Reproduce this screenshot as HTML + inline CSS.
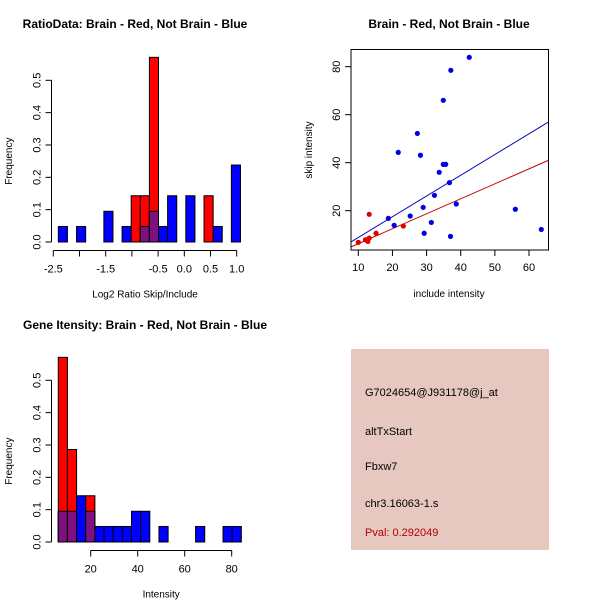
<!DOCTYPE html>
<html><head><meta charset="utf-8"><style>
body{margin:0;background:#fff;}
svg{display:block;font-family:"Liberation Sans",sans-serif;}
</style></head><body>
<svg id="svg" width="600" height="600" viewBox="0 0 600 600">
<rect width="600" height="600" fill="#fff"/>
<text x="135" y="28" font-size="12" font-weight="bold" text-anchor="middle">RatioData: Brain - Red, Not Brain - Blue</text>
<text x="449" y="28" font-size="12" font-weight="bold" text-anchor="middle">Brain - Red, Not Brain - Blue</text>
<text x="145" y="329" font-size="12" font-weight="bold" text-anchor="middle">Gene Itensity: Brain - Red, Not Brain - Blue</text>
<g id="h1"></g>
<g id="sc"></g>
<g id="h2"></g>
<g>
<rect x="351" y="349" width="198" height="201" fill="#e6c8c0"/>
<text x="365" y="396" font-size="11">G7024654@J931178@j_at</text>
<text x="365" y="435" font-size="11">altTxStart</text>
<text x="365" y="470" font-size="11">Fbxw7</text>
<text x="365" y="507" font-size="11">chr3.16063-1.s</text>
<text x="365" y="536" font-size="11" fill="#b00000">Pval: 0.292049</text>
</g>
</svg>
<script>
// ---- histogram 1 data ----
const h1Start = -2.404, h1Width = 0.1738;
const h1Blue = [0.048,0,0.048,0,0,0.095,0,0.048,0,0.048,0.095,0.048,0.143,0,0.143,0,0,0.048,0,0.238];
const h1Red  = [0,0,0,0,0,0,0,0,0.143,0.143,0.571,0,0,0,0,0,0.143,0,0,0];
const h1XTicks = [-2.5,-1.5,-0.5,0.0,0.5,1.0];
const h1XTickLabels = ["-2.5","-1.5","-0.5","0.0","0.5","1.0"];
const h1XMinor = [-2.0,-1.0];
const yTicks = [0,0.1,0.2,0.3,0.4,0.5];
const yTickLabels = ["0.0","0.1","0.2","0.3","0.4","0.5"];
// ---- histogram 2 data ----
const h2Start = 6.2, h2Width = 3.895;
const h2Blue = [0.095,0.095,0.143,0.095,0.048,0.048,0.048,0.048,0.095,0.095,0,0.048,0,0,0,0.048,0,0,0.048,0.048];
const h2Red  = [0.571,0.286,0,0.143,0,0,0,0,0,0,0,0,0,0,0,0,0,0,0,0];
const h2XTicks = [20,40,60,80];
const h2XTickLabels = ["20","40","60","80"];
// ---- scatter data ----
const blueX = [42.5,37.1,34.9,27.3,21.7,28.2,34.9,35.6,33.7,36.7,32.3,38.7,29.0,18.8,20.5,25.2,31.4,29.3,37.0,56.0,63.6];
const blueY = [83.9,78.5,66.0,52.2,44.3,43.1,39.3,39.3,36.0,31.7,26.4,22.8,21.4,16.8,13.9,17.8,15.1,10.6,9.3,20.6,12.2];
const redX = [13.2,10.0,12.1,12.8,13.2,15.2,23.2];
const redY = [18.5,6.8,7.9,7.2,8.6,10.6,13.6];
const blueFit = [0.2,0.864]; // intercept, slope
const redFit = [0.0,0.624];
const scXTicks = [10,20,30,40,50,60];
const scYTicks = [20,40,60,80];

const NS="http://www.w3.org/2000/svg";
function mk(parent,tag,attrs,txt){const e=document.createElementNS(NS,tag);for(const k in attrs)e.setAttribute(k,attrs[k]);if(txt!==undefined)e.textContent=txt;parent.appendChild(e);return e;}

function histogram(g, start, width, blue, red, xs, ys, xTicks, xLabels, minor, axisX0, axisX1, xTitle){
  const y0v = ys(0);
  for(let i=0;i<blue.length;i++){
    const a=xs(start+i*width), b=xs(start+(i+1)*width);
    const mn=Math.min(blue[i],red[i]);
    if(blue[i]>0){const r=mk(g,'rect',{x:a,y:ys(blue[i]),width:b-a,height:y0v-ys(blue[i]),fill:'#0000ff',stroke:'#000','stroke-width':1});
      
      }
    if(red[i]>0){const r=mk(g,'rect',{x:a,y:ys(red[i]),width:b-a,height:y0v-ys(red[i]),fill:'#ff0000',stroke:'#000','stroke-width':1});
      
      }
    if(mn>0){const r=mk(g,'rect',{x:a,y:ys(mn),width:b-a,height:y0v-ys(mn),fill:'#7f1080',stroke:'#000','stroke-width':1});
      
      }
  }
  // y axis
  const ax=51.5;
  mk(g,'line',{x1:ax,y1:ys(0),x2:ax,y2:ys(0.5),stroke:'#000'});
  yTicks.forEach((t,i)=>{mk(g,'line',{x1:ax-6,y1:ys(t),x2:ax,y2:ys(t),stroke:'#000'});
    const tx=mk(g,'text',{x:ax-11,y:ys(t),'font-size':11,'text-anchor':'middle',transform:`rotate(-90 ${ax-11} ${ys(t)})`},yTickLabels[i]);
    
    });
  const yt=mk(g,'text',{x:12,y:(ys(0)+ys(0.5))/2,'font-size':10,'text-anchor':'middle',transform:`rotate(-90 12 ${(ys(0)+ys(0.5))/2})`},'Frequency');
  
  
  // x axis
  const axY=ys(0)+8.5;
  mk(g,'line',{x1:xs(axisX0),y1:axY,x2:xs(axisX1),y2:axY,stroke:'#000'});
  xTicks.forEach((t,i)=>{mk(g,'line',{x1:xs(t),y1:axY,x2:xs(t),y2:axY+6,stroke:'#000'});
    const tx=mk(g,'text',{x:xs(t),y:axY+22,'font-size':11,'text-anchor':'middle'},xLabels[i]);
    
    });
  minor.forEach(t=>mk(g,'line',{x1:xs(t),y1:axY,x2:xs(t),y2:axY+6,stroke:'#000'}));
  const xt=mk(g,'text',{x:(xs(axisX0)+xs(axisX1))/2+ (xTitle==='Intensity'?0:0),y:axY+47,'font-size':10,'text-anchor':'middle'},xTitle);
  
  
}

// histogram 1
{
  const g=document.getElementById('h1');
  const xs=v=>53.3+(v+2.5)*52.4;
  const ys=v=>242-v*323.4;
  histogram(g,h1Start,h1Width,h1Blue,h1Red,xs,ys,h1XTicks,h1XTickLabels,h1XMinor,-2.5,1.0,'Log2 Ratio Skip/Include');
}
// histogram 2
{
  const g=document.getElementById('h2');
  const xs=v=>90.7+(v-20)*2.35;
  const ys=v=>542-v*323.4;
  histogram(g,h2Start,h2Width,h2Blue,h2Red,xs,ys,h2XTicks,h2XTickLabels,[],20,80,'Intensity');
}
// scatter
{
  const g=document.getElementById('sc');
  const L=351,R=548.5,T=49.5,B=250;
  const xs=v=>358.3+(v-10)*3.414;
  const ys=v=>210.7-(v-20)*2.4;
  const cp=mk(document.getElementById('svg'),'clipPath',{id:'scclip'});
  mk(cp,'rect',{x:L,y:T,width:R-L,height:B-T});
  const lines=mk(g,'g',{'clip-path':'url(#scclip)'});
  const x0=5,x1=70;
  const bl=mk(lines,'line',{x1:xs(x0),y1:ys(blueFit[0]+blueFit[1]*x0),x2:xs(x1),y2:ys(blueFit[0]+blueFit[1]*x1),stroke:'#0000c0'});
  
  
  const rl=mk(lines,'line',{x1:xs(x0),y1:ys(redFit[0]+redFit[1]*x0),x2:xs(x1),y2:ys(redFit[0]+redFit[1]*x1),stroke:'#c00000'});
  
  
  blueX.forEach((x,i)=>{const c=mk(g,'circle',{cx:xs(x),cy:ys(blueY[i]),r:2.6,fill:'#0000e0'});
    
    });
  redX.forEach((x,i)=>{const c=mk(g,'circle',{cx:xs(x),cy:ys(redY[i]),r:2.6,fill:'#e00000'});
    
    });
  mk(g,'rect',{x:L,y:T,width:R-L,height:B-T,fill:'none',stroke:'#000'});
  scXTicks.forEach(t=>{mk(g,'line',{x1:xs(t),y1:B,x2:xs(t),y2:B+6,stroke:'#000'});
    const tx=mk(g,'text',{x:xs(t),y:B+21,'font-size':11,'text-anchor':'middle'},String(t));
    
    });
  scYTicks.forEach(t=>{mk(g,'line',{x1:L-6,y1:ys(t),x2:L,y2:ys(t),stroke:'#000'});
    const tx=mk(g,'text',{x:L-11,y:ys(t),'font-size':11,'text-anchor':'middle',transform:`rotate(-90 ${L-11} ${ys(t)})`},String(t));
    
    });
  const xt=mk(g,'text',{x:449,y:297,'font-size':10,'text-anchor':'middle'},'include intensity');
  
  
  const yt=mk(g,'text',{x:312,y:150,'font-size':10,'text-anchor':'middle',transform:'rotate(-90 312 150)'},'skip intensity');
  
  
}
</script>
</body></html>
